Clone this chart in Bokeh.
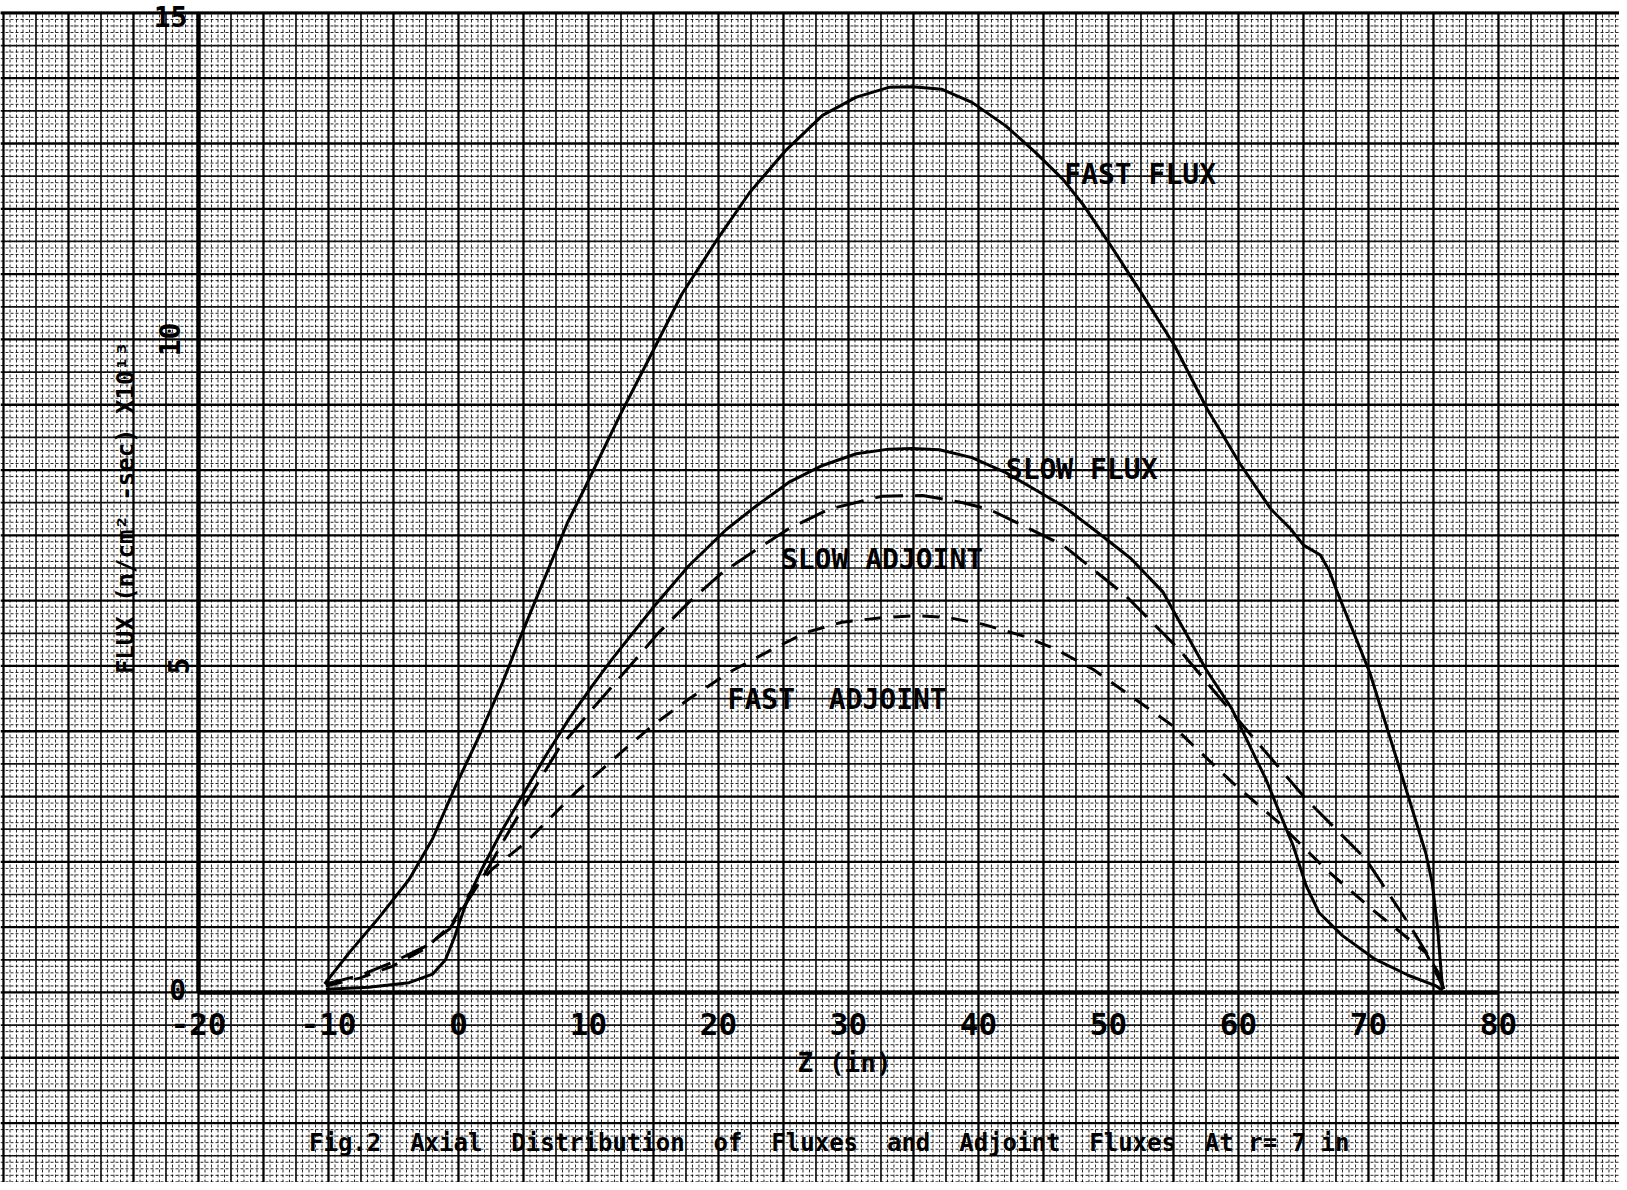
import math
import numpy as np
from bokeh.plotting import figure
from bokeh.models import Range1d
from bokeh.core.properties import value
from bokeh.embed import file_html
from bokeh.resources import INLINE

# ---------------- data ----------------
fast_flux_z = [-10.3, -8.4, -6.1, -3.8, -2.0, -0.2, 1.6, 3.4, 4.8, 6.7, 8.4, 9.8, 12.4,
               14.9, 17.2, 19.8, 22.4, 25.2, 28.0, 30.6, 33.1, 34.9, 37.2, 39.5, 42.1,
               44.4, 46.5, 48.1, 50.2, 52.5, 55.1, 57.6, 60.2, 62.5, 64.0, 65.0, 66.3,
               67.0, 67.6, 70.1, 72.8, 74.4, 74.9, 75.3, 75.7]
fast_flux_v = [0.13, 0.61, 1.15, 1.73, 2.35, 3.17, 3.93, 4.75, 5.46, 6.38, 7.2, 7.76, 8.83,
               9.8, 10.7, 11.5, 12.25, 12.9, 13.43, 13.71, 13.86, 13.87, 13.83, 13.63, 13.27,
               12.86, 12.45, 12.05, 11.43, 10.72, 9.9, 8.93, 8.07, 7.4, 7.1, 6.85, 6.7,
               6.45, 6.13, 4.9, 3.17, 2.14, 1.68, 1.02, 0.05]

slow_flux_z = [-10.2, -6.9, -3.8, -2.0, -1.0, -0.3, 0.3, 0.8, 1.8, 3.4, 4.9, 6.7, 8.5,
               10.3, 11.8, 13.4, 15.2, 17.7, 20.6, 22.9, 25.4, 28.0, 30.6, 33.1, 34.9,
               37.0, 39.5, 42.1, 44.7, 46.5, 49.2, 51.7, 54.2, 57.5, 59.5, 62.1, 64.2,
               65.2, 66.2, 68.0, 70.5, 73.1, 75.2, 75.7]
slow_flux_v = [0.05, 0.08, 0.15, 0.28, 0.5, 0.85, 1.2, 1.48, 1.89, 2.5, 3.01, 3.62, 4.19,
               4.7, 5.1, 5.5, 5.95, 6.53, 7.09, 7.45, 7.81, 8.07, 8.25, 8.32, 8.33,
               8.31, 8.19, 7.96, 7.66, 7.45, 7.04, 6.65, 6.13, 4.95, 4.34, 3.27, 2.25,
               1.64, 1.22, 0.87, 0.51, 0.26, 0.1, 0.03]

slow_adj_z = [-10.2, -7.6, -5.1, -2.5, -0.7, 0.8, 2.1, 3.4, 5.2, 7.7, 10.3, 13.4, 15.4,
              17.7, 20.3, 22.9, 25.4, 28.5, 32.6, 35.7, 38.8, 40.8, 43.4, 46.5, 51.3,
              55.4, 60.8, 65.2, 69.8, 73.2, 75.5, 75.8]
slow_adj_v = [0.13, 0.26, 0.46, 0.71, 0.97, 1.43, 1.84, 2.3, 2.91, 3.73, 4.34, 5.05, 5.51,
              5.97, 6.43, 6.78, 7.1, 7.4, 7.6, 7.61, 7.5, 7.4, 7.15, 6.85, 6.08,
              5.26, 3.98, 2.96, 2.04, 1.02, 0.26, 0.05]

fast_adj_z = [-10.2, -7.6, -5.1, -2.5, -0.5, 0.8, 2.6, 5.2, 9.0, 13.4, 15.2, 17.7, 20.8,
              24.2, 26.7, 29.5, 32.6, 35.2, 37.7, 40.3, 43.4, 45.9, 48.8, 54.9, 59.5,
              63.1, 66.7, 70.3, 74.4, 75.7]
fast_adj_v = [0.1, 0.22, 0.4, 0.68, 1.05, 1.5, 1.89, 2.3, 3.06, 3.83, 4.13, 4.49, 4.9,
              5.26, 5.51, 5.67, 5.74, 5.77, 5.74, 5.64, 5.46, 5.26, 4.95, 4.09, 3.22,
              2.6, 1.89, 1.27, 0.61, 0.1]

x_ticks = [-20, -10, 0, 10, 20, 30, 40, 50, 60, 70, 80]
x_tick_labels = ["-20", "-10", "0", "10", "20", "30", "40", "50", "60", "70", "80"]
y_ticks = [0, 5, 10, 15]
y_tick_labels = ["0", "5", "10", "15"]

NB = "\u00a0"
curve_labels = ["FAST" + NB + "FLUX", "SLOW" + NB + "FLUX",
                "SLOW" + NB + "ADJOINT", "FAST" + NB + NB + "ADJOINT"]
label_z = [46.6, 42.1, 24.8, 20.7]
label_v = [12.53, 8.01, 6.63, 4.49]

x_title = "Z" + NB + "(in)"
y_title = "FLUX (n/cm\u00b2 -sec) X10\u00b9\u00b3"
fig_title = ("Fig.2" + NB * 2 + "Axial" + NB * 2 + "Distribution" + NB * 2 + "of" + NB * 2 +
             "Fluxes" + NB * 2 + "and" + NB * 2 + "Adjoint" + NB * 2 + "Fluxes" + NB * 2 +
             "At r= 7 in")

# ---------------- figure ----------------
X0, X1 = -35.23, 89.31
Y0, Y1 = -2.91, 15.19
p = figure(width=1619, height=1182, x_range=Range1d(X0, X1), y_range=Range1d(Y0, Y1),
           output_backend="svg", toolbar_location=None, min_border=0,
           x_axis_location=None, y_axis_location=None)
p.grid.visible = False
p.outline_line_color = None
p.background_fill_color = "white"
p.border_fill_color = "white"

# graph-paper grid
GTOP = 15.0
vx = np.arange(-35.0, X1 + 0.01, 0.5)
hy = np.arange(-2.9, GTOP + 0.001, 0.1)

def classify(vals, med, heavy, ref):
    minor, medium, hv = [], [], []
    for v in vals:
        r = (v - ref)
        if abs(r / heavy - round(r / heavy)) < 1e-6:
            hv.append(v)
        elif abs(r / med - round(r / med)) < 1e-6:
            medium.append(v)
        else:
            minor.append(v)
    return minor, medium, hv

vmin, vmed, vhv = classify(vx, 2.5, 5.0, -20.0)
hmin, hmed, hhv = classify(hy, 0.5, 1.0, 0.0)

def vlines(xs, **kw):
    xs = list(xs)
    p.segment(x0=xs, y0=[Y0] * len(xs), x1=xs, y1=[GTOP] * len(xs), **kw)

def hlines(ys, **kw):
    ys = list(ys)
    p.segment(x0=[X0] * len(ys), y0=ys, x1=[X1] * len(ys), y1=ys, **kw)

minor_style = dict(line_color="#000000", line_width=1.0, line_alpha=0.85, line_dash="3 2")
vlines(vmin, **minor_style)
hlines(hmin, **minor_style)
vlines(vmed, line_color="#111111", line_width=1.7)
hlines(hmed, line_color="#111111", line_width=1.7)
vlines(vhv, line_color="#000000", line_width=2.3)
hlines(hhv, line_color="#000000", line_width=2.3)

# top border and axes
p.segment(x0=[X0], y0=[GTOP], x1=[X1], y1=[GTOP], line_color="black", line_width=3)
p.segment(x0=[x_ticks[0]], y0=[0], x1=[x_ticks[0]], y1=[y_ticks[-1]], line_color="black", line_width=4.5)
p.segment(x0=[x_ticks[0]], y0=[0], x1=[x_ticks[-1]], y1=[0], line_color="black", line_width=4.5)

# curves
p.line(fast_flux_z, fast_flux_v, line_color="black", line_width=3, line_join="round")
p.line(slow_flux_z, slow_flux_v, line_color="black", line_width=3, line_join="round")
p.line(slow_adj_z, slow_adj_v, line_color="black", line_width=3, line_dash="28 12")
p.line(fast_adj_z, fast_adj_v, line_color="black", line_width=3, line_dash="17 12")

FONT = value("DejaVu Sans Mono")

# tick labels
p.text(x=x_ticks, y=[-0.49] * len(x_ticks), text=x_tick_labels, text_font=FONT,
       text_font_size="31px", text_font_style="bold", text_align="center",
       text_baseline="middle", text_color="black")
y_lab_x = [-21.6, -21.5, -22.2, -22.15]
y_lab_y = [0.05, 5.0, 10.0, 14.94]
y_lab_angle = [0, math.pi / 2, math.pi / 2, 0]
p.text(x=y_lab_x, y=y_lab_y, text=y_tick_labels, angle=y_lab_angle, text_font=FONT,
       text_font_size="28px", text_font_style="bold", text_align="center",
       text_baseline="middle", text_color="black")

# curve labels
p.text(x=label_z, y=label_v, text=curve_labels, text_font=FONT, text_font_size="28px",
       text_font_style="bold", text_align="left", text_baseline="alphabetic",
       text_color="black")

# axis titles and figure caption
p.text(x=[29.7], y=[-1.08], text=[x_title], text_font=FONT, text_font_size="26px",
       text_font_style="bold", text_align="center", text_baseline="middle")
p.text(x=[-25.6], y=[7.42], text=[y_title], angle=[math.pi / 2], text_font=FONT,
       text_font_size="24px", text_font_style="bold", text_align="center",
       text_baseline="middle")
p.text(x=[-11.5], y=[-2.31], text=[fig_title], text_font=FONT, text_font_size="24px",
       text_font_style="bold", text_align="left", text_baseline="middle")

open("out.html", "w").write(file_html(p, INLINE))
